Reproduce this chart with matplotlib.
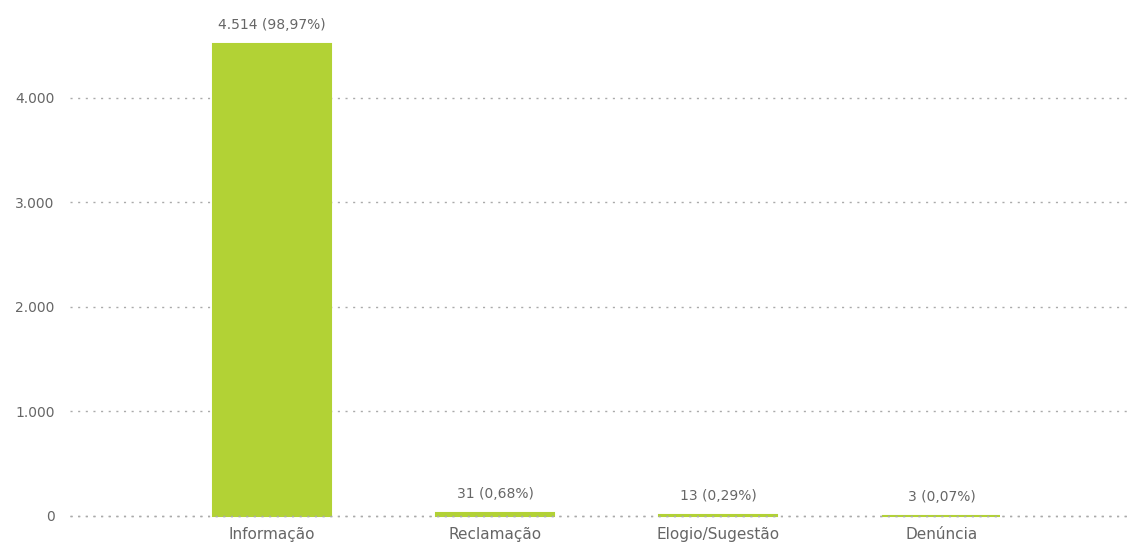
import matplotlib.pyplot as plt

# Data
categories = ['Informação', 'Reclamação', 'Elogio/Sugestão', 'Denúncia']
counts = [4514, 31, 13, 3]
percents = ['98,97%', '0,68%', '0,29%', '0,07%']
yticks = [0, 1000, 2000, 3000, 4000]


def fmt(v):
    return f'{v:,}'.replace(',', '.')


plt.rcParams['font.family'] = ['DejaVu Sans']

fig = plt.figure(figsize=(11.31, 5.43), dpi=100)
# 0 at pixel 516, 1000 units = 104.5 px
ax = fig.add_axes([70 / 1131, (27 - 5) / 543, 1 - 70 / 1131, (516 + 5 - 14.4) / 543])

x = list(range(len(categories)))
# thin edge keeps the tiny bars visible, like the original
ax.bar(x, counts, width=0.53, color='#b2d235', edgecolor='#b2d235', linewidth=1.5, zorder=2)

for xi, c, p in zip(x, counts, percents):
    ax.annotate(f'{fmt(c)} ({p})', (xi, c), xytext=(0, 8.5), textcoords='offset points',
                ha='center', va='bottom', fontsize=10, color='#666666')

grid_style = dict(linestyle=(0, (1.5, 4)), color='#aaaaaa', linewidth=1)
ax.set_xlim(-0.906, 3.85)
ax.set_ylim(-48, 4800)
ax.set_yticks(yticks)
ax.set_yticklabels([fmt(v) for v in yticks])
ax.set_xticks(x)
ax.set_xticklabels(categories)
ax.tick_params(axis='both', length=0, labelsize=10, labelcolor='#666666')
ax.tick_params(axis='x', labelsize=11, pad=4)
ax.tick_params(axis='y', pad=11)
ax.yaxis.grid(True, zorder=1, **grid_style)
ax.set_axisbelow(True)
# baseline dots sit on top of the thin bars
ax.axhline(yticks[0], zorder=3, **grid_style)
for s in ax.spines.values():
    s.set_visible(False)

fig.savefig('out.png', dpi=100, facecolor='white')
